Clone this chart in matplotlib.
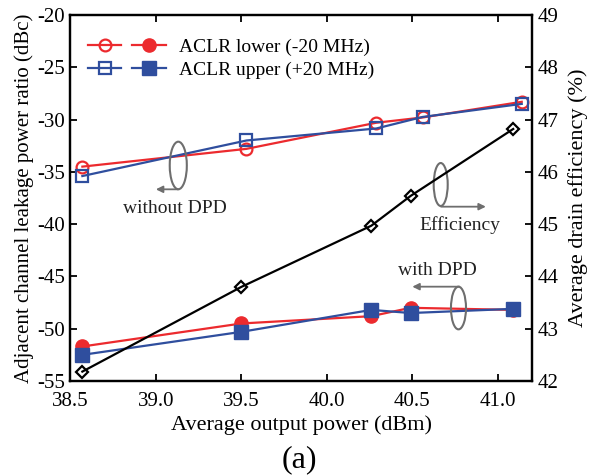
import matplotlib
matplotlib.use("Agg")
import matplotlib.pyplot as plt
from matplotlib.patches import Ellipse
from matplotlib.legend_handler import HandlerTuple

plt.rcParams['font.family'] = ['Liberation Serif', 'DejaVu Serif']
plt.rcParams['axes.unicode_minus'] = False

# ---- data ----
x_wo = [38.57, 39.53, 40.29, 40.56, 41.14]
lower_wo = [-34.5, -32.8, -30.3, -29.8, -28.3]
upper_wo = [-35.4, -32.0, -30.85, -29.75, -28.5]

x_w = [38.57, 39.50, 40.26, 40.49, 41.09]
lower_w = [-51.7, -49.5, -48.8, -48.0, -48.2]
upper_w = [-52.5, -50.3, -48.2, -48.5, -48.1]

x_eff = [38.57, 39.50, 40.26, 40.49, 41.09]
eff = [42.18, 43.80, 44.97, 45.54, 46.82]

xticks = [38.5, 39.0, 39.5, 40.0, 40.5, 41.0]
xticklabels = ['38.5', '39.0', '39.5', '40.0', '40.5', '41.0']
yticks_left = [-55, -50, -45, -40, -35, -30, -25, -20]
yticks_right = [42, 43, 44, 45, 46, 47, 48, 49]

RED = '#ec2a2e'
BLUE = '#2f4e9e'
GRAY = '#6e6e6e'
TFS = 15

fig = plt.figure(figsize=(5.90, 4.76), dpi=100)
ax = fig.add_axes([70.4/590, 1-381/476, (532-70.4)/590, (381-15)/476])
ax2 = ax.twinx()

lw = 1.6
h1, = ax.plot(x_wo, lower_wo, '-o', color=RED, lw=lw, ms=8.5, mfc='none', mec=RED, mew=1.6, zorder=3)
h2, = ax.plot(x_w, lower_w, '-o', color=RED, lw=lw, ms=9.5, mfc=RED, mec=RED, zorder=3)
h3, = ax.plot(x_wo, upper_wo, '-s', color=BLUE, lw=lw, ms=8.5, mfc='none', mec=BLUE, mew=1.6, zorder=4)
h4, = ax.plot(x_w, upper_w, '-s', color=BLUE, lw=lw, ms=9.5, mfc=BLUE, mec=BLUE, zorder=4)

ax2.plot(x_eff, eff, '-D', color='black', lw=lw, ms=6, mfc='none', mec='black', mew=1.6, zorder=3)

ax.set_xlim(38.5, 41.2)
ax.set_ylim(-55, -20)
ax2.set_ylim(42, 49)
ax.set_xticks(xticks)
ax.set_xticklabels(xticklabels)
ax.set_yticks(yticks_left)
ax2.set_yticks(yticks_right)

for a in (ax, ax2):
    for s in a.spines.values():
        s.set_linewidth(1.6)
ax.tick_params(axis='both', direction='in', length=5, width=1.3, labelsize=TFS, top=True)
ax.tick_params(axis='x', pad=8)
ax.tick_params(axis='y', right=False, pad=4)
ax2.tick_params(axis='y', direction='in', length=5, width=1.3, labelsize=TFS, pad=4)

ax.set_xlabel('Average output power (dBm)', fontsize=16, labelpad=3)
ax.set_ylabel('Adjacent channel leakage power ratio (dBc)', fontsize=15, labelpad=2)
ax2.set_ylabel('Average drain efficiency (%)', fontsize=16, labelpad=7)

leg = ax.legend([(h1, h2), (h3, h4)], ['ACLR lower (-20 MHz)', 'ACLR upper (+20 MHz)'],
                handler_map={tuple: HandlerTuple(ndivide=None, pad=0.57)},
                handlelength=4.0, loc='upper left', bbox_to_anchor=(0.0, 0.985),
                frameon=False, fontsize=14, labelspacing=0.3, handletextpad=0.7,
                borderaxespad=0.5, borderpad=0.4)

# annotations
def ell(cx, cy, w, h):
    ax.add_patch(Ellipse((cx, cy), w, h, fill=False, ec=GRAY, lw=1.5, zorder=5))

def arr(x0, y0, x1, y1):
    ax.annotate('', xy=(x1, y1), xytext=(x0, y0),
                arrowprops=dict(arrowstyle='-|>', color=GRAY, lw=1.3,
                                mutation_scale=10, shrinkA=0, shrinkB=0), zorder=5)

AFS = 14
ell(39.131, -34.39, 0.10, 4.55)
arr(39.131, -36.67, 39.0, -36.67)
ax.text(39.113, -38.55, 'without DPD', fontsize=AFS, ha='center', va='center', color='#222222')

ell(40.666, -36.21, 0.082, 4.11)
arr(40.668, -38.33, 40.93, -38.33)
ax.text(40.779, -40.08, 'Efficiency', fontsize=AFS, ha='center', va='center', color='#222222')

ell(40.77, -48.02, 0.088, 4.08)
arr(40.775, -45.98, 40.50, -45.98)
ax.text(40.648, -44.39, 'with DPD', fontsize=AFS, ha='center', va='center', color='#222222')

fig.text(0.508, 1 - 460/476, '(a)', fontsize=23, ha='center', va='center')

fig.savefig('out.png', dpi=100)
